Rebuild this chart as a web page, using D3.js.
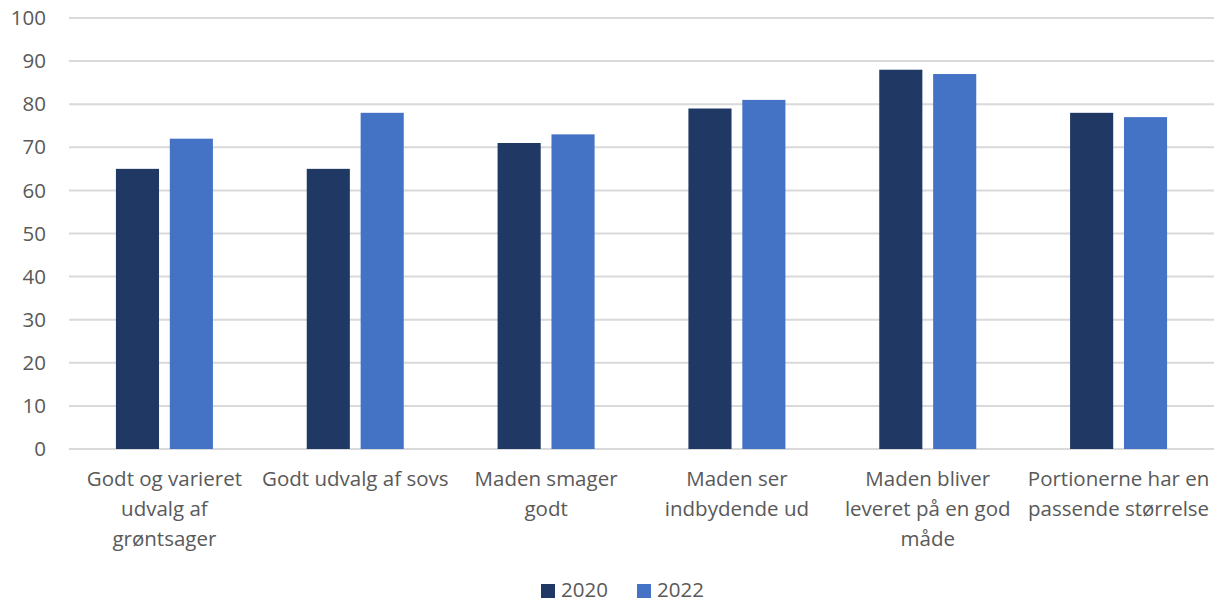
<!DOCTYPE html>
<html lang="da">
<head>
<meta charset="UTF-8">
<title>Tilfredshed med maden</title>
<style>
    body { margin: 0; background: #fff; font-family: "Open Sans", "Liberation Sans", sans-serif; }
    .axis text { fill: #595959; font-size: 20.5px; }
    .grid line { stroke: #d9d9d9; stroke-width: 2px; }
</style>
</head>
<body>
<div id="chart"></div>
<script src="https://d3js.org/d3.v7.min.js"></script>
<script>
// Data
const categories = [
    ["Godt og varieret", "udvalg af", "grøntsager"],
    ["Godt udvalg af sovs"],
    ["Maden smager", "godt"],
    ["Maden ser", "indbydende ud"],
    ["Maden bliver", "leveret på en god", "måde"],
    ["Portionerne har en", "passende størrelse"]
];
const series = ["2020", "2022"];
const values2020 = [65, 65, 71, 79, 88, 78];
const values2022 = [72, 78, 73, 81, 87, 77];
const yTicks = [0, 10, 20, 30, 40, 50, 60, 70, 80, 90, 100];
const colors = ["#203864", "#4472c4"];

const width = 1214, height = 602;
const margin = { top: 18, right: 0, bottom: 153, left: 69 };

const svg = d3.select("#chart").append("svg")
    .attr("width", width)
    .attr("height", height);

const x = d3.scaleBand()
    .domain(d3.range(categories.length))
    .range([margin.left, width - margin.right]);

// the two bars of a group take 97px in the middle of each band
const groupW = 97;
const xInner = d3.scaleBand()
    .domain(series)
    .range([x.bandwidth() / 2 - groupW / 2, x.bandwidth() / 2 + groupW / 2])
    .paddingInner(0.2);

const y = d3.scaleLinear()
    .domain([0, 100])
    .range([height - margin.bottom, margin.top]);

// Gridlines
svg.append("g")
    .attr("class", "grid")
    .selectAll("line")
    .data(yTicks)
    .join("line")
    .attr("x1", margin.left)
    .attr("x2", width - margin.right)
    .attr("y1", d => y(d))
    .attr("y2", d => y(d));

// Y labels
svg.append("g")
    .attr("class", "axis")
    .selectAll("text")
    .data(yTicks)
    .join("text")
    .attr("x", 46)
    .attr("y", d => y(d))
    .attr("dy", "0.35em")
    .attr("text-anchor", "end")
    .text(d => d);

// Bars
const rows = categories.map((c, i) => [
    { s: "2020", v: values2020[i], i },
    { s: "2022", v: values2022[i], i }
]);

svg.append("g")
    .selectAll("g")
    .data(rows)
    .join("g")
    .attr("transform", (d, i) => `translate(${x(i)},0)`)
    .selectAll("rect")
    .data(d => d)
    .join("rect")
    .attr("x", d => xInner(d.s))
    .attr("width", xInner.bandwidth())
    .attr("y", d => y(d.v))
    .attr("height", d => y(0) - y(d.v))
    .attr("fill", (d, j) => colors[j]);

// Category labels
const catLabels = svg.append("g")
    .attr("class", "axis")
    .selectAll("text")
    .data(categories)
    .join("text")
    .attr("x", (d, i) => x(i) + x.bandwidth() / 2)
    .attr("y", 486)
    .attr("text-anchor", "middle");

catLabels.selectAll("tspan")
    .data(d => d)
    .join("tspan")
    .attr("x", function () { return d3.select(this.parentNode).attr("x"); })
    .attr("dy", (d, k) => k === 0 ? 0 : 30)
    .text(d => d);

// Legend
const legend = svg.append("g").attr("class", "axis");
const legendX = [541, 637];
series.forEach((s, k) => {
    legend.append("rect")
        .attr("x", legendX[k])
        .attr("y", 584)
        .attr("width", 14)
        .attr("height", 14)
        .attr("fill", colors[k]);
    legend.append("text")
        .attr("x", legendX[k] + 20)
        .attr("y", 590)
        .attr("dy", "0.35em")
        .text(s);
});
</script>
</body>
</html>
